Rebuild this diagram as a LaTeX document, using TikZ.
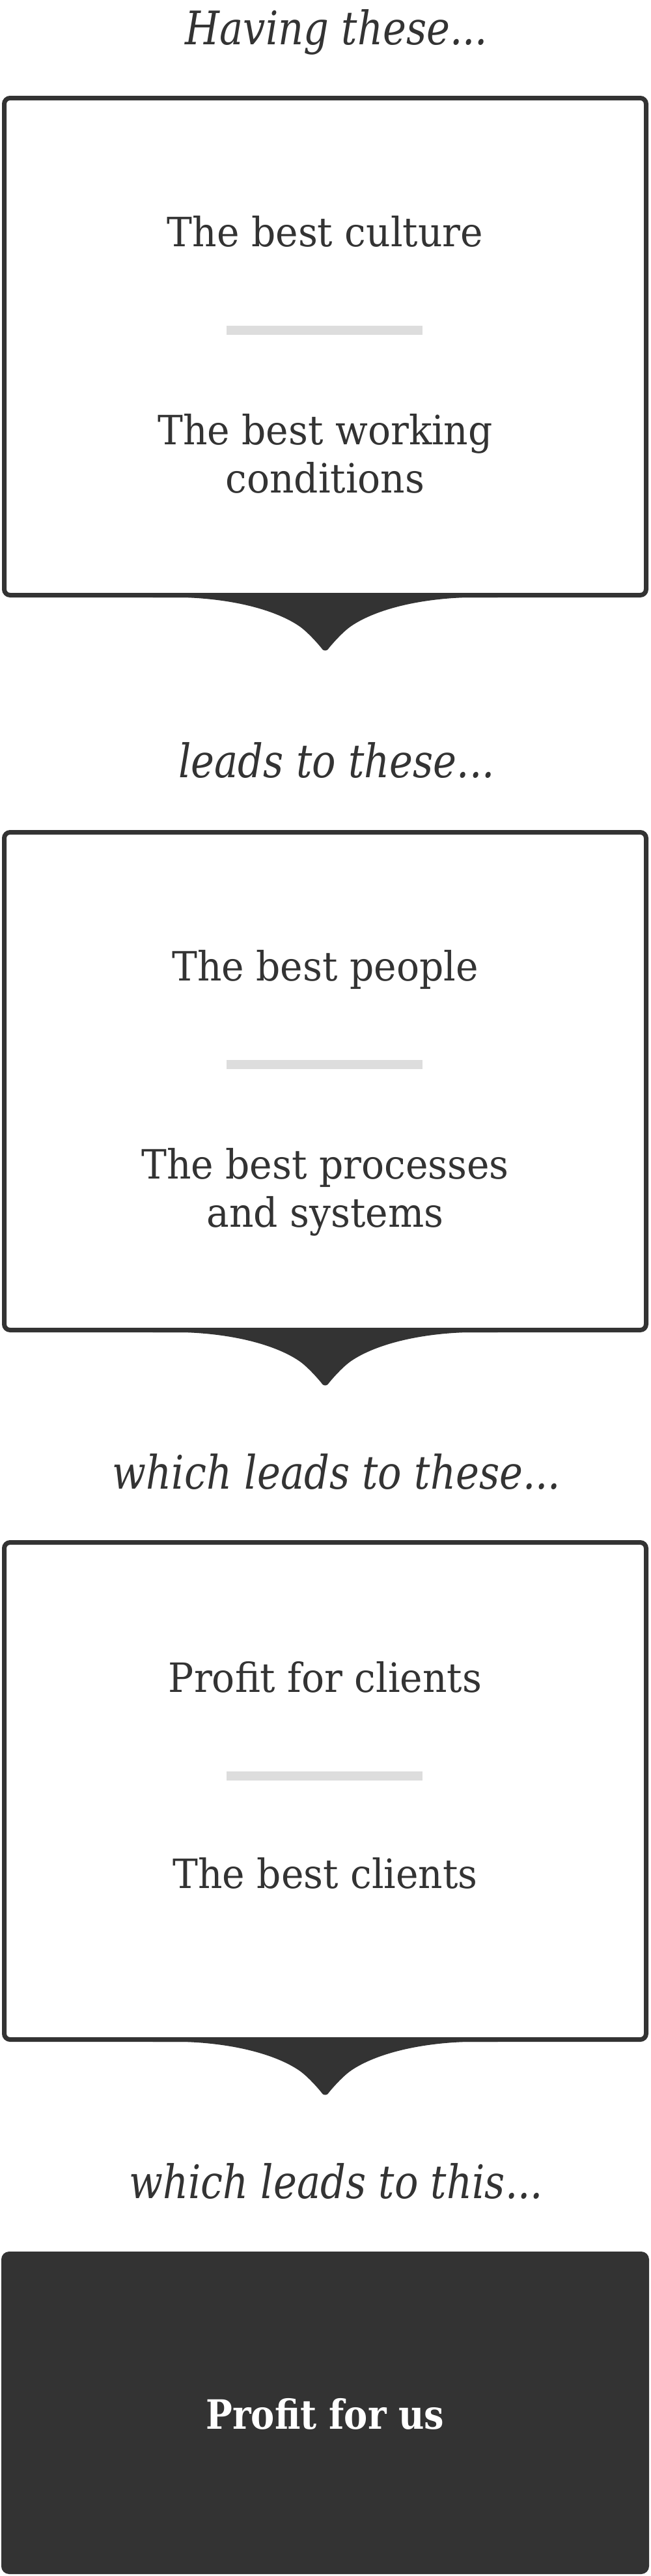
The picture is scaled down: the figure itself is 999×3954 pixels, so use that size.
\documentclass[tikz,border=0pt]{standalone}
\usepackage{fontspec}
\setmainfont{DejaVu Serif}[FakeStretch=0.94,
  ItalicFeatures={FakeStretch=0.855},
  BoldFeatures={FakeStretch=0.875}]
\definecolor{ink}{HTML}{333333}
\definecolor{rulegray}{HTML}{DDDDDD}
\begin{document}
\begin{tikzpicture}[x=1pt,y=-1pt,
  box/.style={draw=ink, line width=7pt, rounded corners=9pt, minimum width=986pt, inner sep=0pt, fill=white},
  darkbox/.style={fill=ink, rounded corners=12pt, minimum width=995pt, minimum height=495pt, inner sep=0pt},
  body/.style={font=\fontsize{62}{74}\selectfont, text=ink, anchor=base, align=center, inner sep=0pt},
  title/.style={font=\fontsize{71}{80}\selectfont\itshape, text=ink, anchor=base, inner sep=0pt},
  sepbar/.style={fill=rulegray, minimum width=301pt, minimum height=14pt, inner sep=0pt},
  tailfill/.style={fill=ink}]
\useasboundingbox (0,0) rectangle (999,3954);
\fill[white] (0,0) rectangle (999,3954);
\def\tail#1{%
  \fill[tailfill] ([xshift=-265pt]#1.south) .. controls +(115,-4) and +(-35,-24) .. ++(225,44)
    .. controls +(12,8) and +(-6,-8) .. ++(36,36)
    .. controls +(2,2) and +(-2,2) .. ++(8,0)
    .. controls +(6,-8) and +(-12,8) .. ++(36,-36)
    .. controls +(35,-24) and +(-115,-4) .. ++(225,-44) -- cycle;}
% section 1
\node[title] (t1) at (517,68) {Having these...};
\node[box, minimum height=763pt] (b1) at (499.5,532) {};
\tail{b1}
\node[body] (c1a) at (499.5,378) {The best culture};
\node[sepbar] (s1) at (498.5,507) {};
\node[body] (c1b) at (499.5,756) {The best working\\conditions};
% section 2
\node[title] (t2) at (517,1193) {leads to these...};
\node[box, minimum height=764pt] (b2) at (499.5,1659.5) {};
\tail{b2}
\node[body] (c2a) at (499.5,1505) {The best people};
\node[sepbar] (s2) at (498.5,1634) {};
\node[body] (c2b) at (499.5,1883) {The best processes\\and systems};
% section 3
\node[title] (t3) at (517,2285) {which leads to these...};
\node[box, minimum height=763pt] (b3) at (499.5,2749) {};
\tail{b3}
\node[body] (c3a) at (499.5,2597) {Profit for clients};
\node[sepbar] (s3) at (498.5,2725.5) {};
\node[body] (c3b) at (499.5,2898) {The best clients};
% section 4
\node[title] (t4) at (516,3374) {which leads to this...};
\node[darkbox] (b4) at (499.5,3703.5) {};
\node[body, text=white, font=\fontsize{62}{74}\selectfont\bfseries] (c4) at (499.5,3728) {Profit for us};
\end{tikzpicture}
\end{document}
